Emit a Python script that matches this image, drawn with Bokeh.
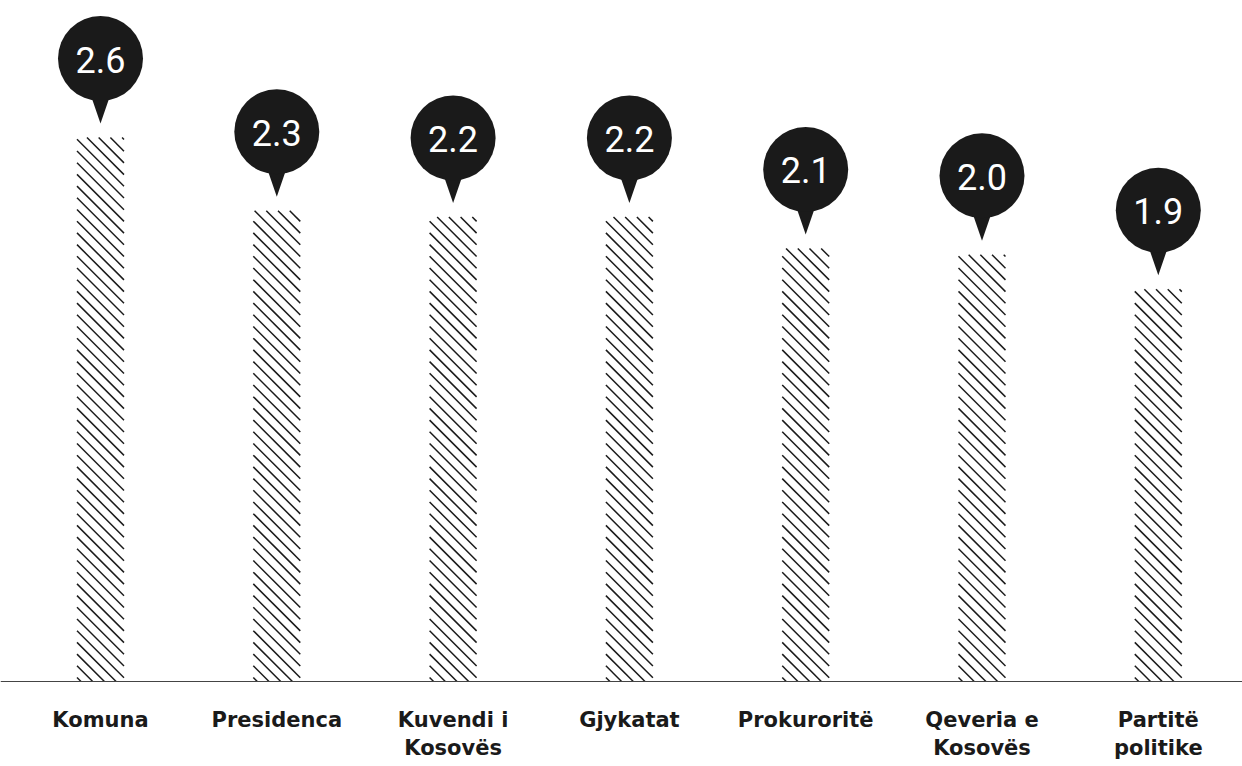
from bokeh.plotting import figure
from bokeh.models import Range1d, Span, ColumnDataSource
from bokeh.core.properties import value
from bokeh.embed import file_html
from bokeh.resources import INLINE

# ---- data ----
categories = ["Komuna", "Presidenca", "Kuvendi i\nKosovës", "Gjykatat",
              "Prokuroritë", "Qeveria e\nKosovës", "Partitë\npolitike"]
values = [2.60, 2.25, 2.22, 2.22, 2.07, 2.04, 1.875]
value_labels = ["2.6", "2.3", "2.2", "2.2", "2.1", "2.0", "1.9"]

# ---- layout constants (pixels) ----
W, H = 1242, 766
PXX = 176.3           # px per category step
PXY = 209.2           # px per unit value
X0_PX = 100           # canvas x of first category center
BASE_PX = 681         # canvas y (from top) of the baseline
BAR_HALF = 23.5       # half bar width, px
HATCH_STEP = 11.7     # horizontal distance between hatch lines, px

x_start = -X0_PX / PXX
x_end = x_start + W / PXX
y_end = BASE_PX / PXY
y_start = -(H - BASE_PX) / PXY

xs = list(range(len(categories)))

p = figure(width=W, height=H, output_backend="svg", toolbar_location=None,
           x_range=Range1d(x_start, x_end), y_range=Range1d(y_start, y_end),
           min_border=0, outline_line_color=None, background_fill_color="white")
p.axis.visible = False
p.grid.visible = False

# bars (white body) + 45-degree "\" hatch lines clipped to each bar
src = ColumnDataSource(dict(x=xs, top=values, cat=categories, lab=value_labels))
p.vbar(x="x", top="top", bottom=0, width=2 * BAR_HALF / PXX, source=src,
       fill_color="white", line_color=None)

hx0, hy0, hx1, hy1 = [], [], [], []
for i, v in zip(xs, values):
    hb = v * PXY
    c = -BAR_HALF + 4.0
    while c < hb + BAR_HALF:
        u0 = max(-BAR_HALF, c - hb)
        u1 = min(BAR_HALF, c)
        if u1 - u0 > 0.5:
            hx0.append(i + u0 / PXX); hy0.append((c - u0) / PXY)
            hx1.append(i + u1 / PXX); hy1.append((c - u1) / PXY)
        c += HATCH_STEP
p.segment(x0=hx0, y0=hy0, x1=hx1, y1=hy1, line_color="#1a1a1a", line_width=1.5)

# baseline
p.add_layout(Span(location=0, dimension="width", line_color="#444444", line_width=1))

# bubbles
TIP_GAP = 14      # tip above bar top
CEN = 65          # circle center above tip
R = 42.5          # circle radius
HALF_W = 11       # tail half width
cy = [v + (TIP_GAP + CEN) / PXY for v in values]
tail_xs, tail_ys = [], []
for x, v in zip(xs, values):
    tip = v + TIP_GAP / PXY
    top = tip + 32 / PXY
    tail_xs.append([x - HALF_W / PXX, x + HALF_W / PXX, x])
    tail_ys.append([top, top, tip])
p.patches(tail_xs, tail_ys, fill_color="#1a1a1a", line_color=None)
bsrc = ColumnDataSource(dict(x=xs, y=cy, lab=value_labels))
p.scatter(x="x", y="y", size=2 * R, marker="circle", source=bsrc,
          fill_color="#1a1a1a", line_color=None)
p.text(x="x", y="y", text="lab", source=bsrc, text_color="white",
       text_font=value("Roboto"), text_font_size="36px",
       text_align="center", text_baseline="middle", y_offset=1)

# category labels
lsrc = ColumnDataSource(dict(x=xs, y=[-(707 - BASE_PX) / PXY] * len(xs), t=categories))
p.text(x="x", y="y", text="t", source=lsrc, text_color="#1a1a1a",
       text_font=value("DejaVu Sans"), text_font_style="bold", text_font_size="21px",
       text_align="center", text_baseline="top", text_line_height=1.2)

open("out.html", "w").write(file_html(p, INLINE))
